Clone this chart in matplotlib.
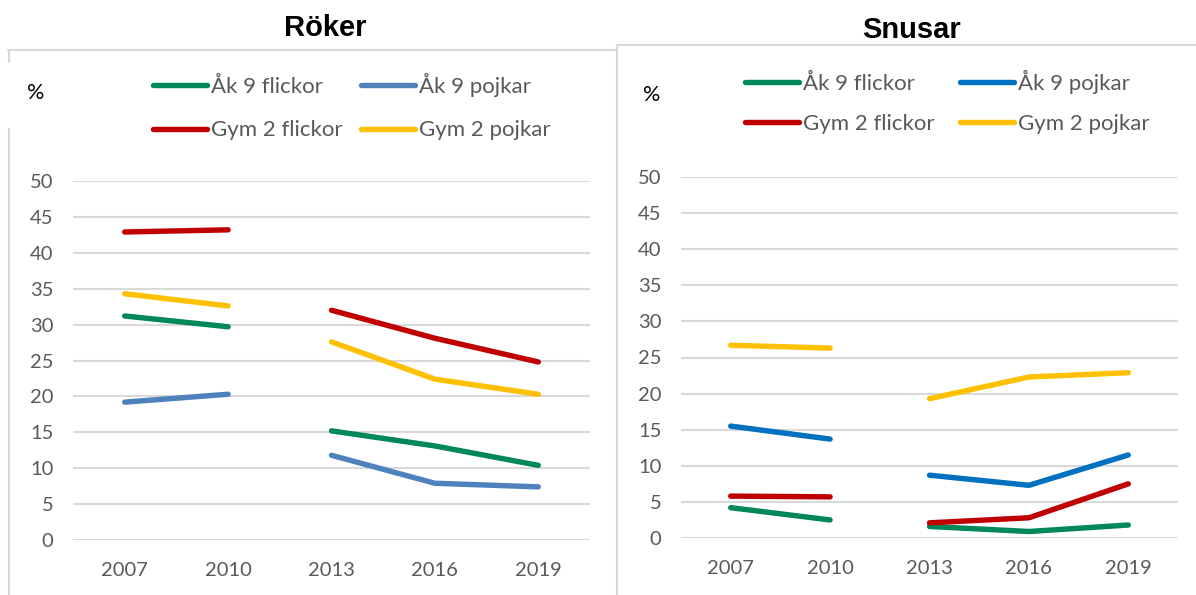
import numpy as np
import matplotlib
matplotlib.use("Agg")
import matplotlib.pyplot as plt
from matplotlib.lines import Line2D

years = ["2007", "2010", "2013", "2016", "2019"]
series_names = ["Åk 9 flickor", "Åk 9 pojkar", "Gym 2 flickor", "Gym 2 pojkar"]

roker_ak9_flickor = [31.2, 29.7, 15.2, 13.1, 10.4]
roker_ak9_pojkar = [19.2, 20.3, 11.8, 7.9, 7.4]
roker_gym2_flickor = [42.9, 43.2, 32.0, 28.1, 24.8]
roker_gym2_pojkar = [34.3, 32.6, 27.6, 22.4, 20.3]

snus_ak9_flickor = [4.2, 2.5, 1.6, 0.9, 1.8]
snus_ak9_pojkar = [15.5, 13.7, 8.7, 7.3, 11.5]
snus_gym2_flickor = [5.8, 5.7, 2.1, 2.8, 7.5]
snus_gym2_pojkar = [26.7, 26.3, 19.3, 22.3, 22.9]

yticks = [0, 5, 10, 15, 20, 25, 30, 35, 40, 45, 50]

W, H = 1196, 595
fig = plt.figure(figsize=(W / 100, H / 100), dpi=100)
fig.patch.set_facecolor("white")

border = "#D9D9D9"
tick_col = "#595959"
font = ["Lato", "DejaVu Sans"]


def fx(px):
    return px / W


def fy(py):
    return 1 - py / H


# panel borders
fig.add_artist(Line2D([fx(8), fx(617)], [fy(50), fy(50)], color=border, lw=1.5))
fig.add_artist(Line2D([fx(9), fx(9)], [fy(50), fy(62)], color=border, lw=1.5))
fig.add_artist(Line2D([fx(9), fx(9)], [fy(129), fy(595)], color=border, lw=1.5))
fig.add_artist(Line2D([fx(617), fx(1196)], [fy(45), fy(45)], color=border, lw=1.5))
fig.add_artist(Line2D([fx(617), fx(617)], [fy(45), fy(595)], color=border, lw=1.5))


def panel(rect_px, title, title_xy, pct_xy, leg_xy, data, colors, colsp, lsp):
    l, r, t, b = rect_px
    ax = fig.add_axes([fx(l), fy(b), fx(r) - fx(l), fy(t) - fy(b)])
    x = np.arange(len(years))
    handles = []
    for name, vals, c in zip(series_names, data, colors):
        v = np.array(vals, dtype=float)
        # gap between 2010 and 2013
        ax.plot(x[:2], v[:2], color=c, lw=3.9, solid_capstyle="round", clip_on=False, zorder=3)
        h, = ax.plot(x[2:], v[2:], color=c, lw=3.9, solid_capstyle="round", clip_on=False, zorder=3)
        handles.append((h, name))
    ax.set_xlim(-0.5, len(years) - 0.5)
    ax.set_ylim(0, 50)
    ax.set_yticks(yticks)
    ax.set_xticks(x)
    ax.set_xticklabels(years)
    for s in ax.spines.values():
        s.set_visible(False)
    ax.grid(axis="y", color=border, lw=1.5, zorder=0)
    ax.set_axisbelow(True)
    ax.tick_params(length=0, colors=tick_col, labelsize=14.5)
    ax.tick_params(axis="y", pad=14)
    ax.tick_params(axis="x", pad=16)
    for lab in ax.get_xticklabels() + ax.get_yticklabels():
        lab.set_family(font)
    fig.text(fx(title_xy[0]), fy(title_xy[1]), title, ha="center", va="center",
             fontsize=21, fontweight="bold", family=["Liberation Sans", "DejaVu Sans"])
    fig.text(fx(pct_xy[0]), fy(pct_xy[1]), "%", ha="center", va="center",
             fontsize=15.5, family=font, color="black")
    order = [0, 2, 1, 3]
    leg = ax.legend([handles[i][0] for i in order], [handles[i][1] for i in order],
                    ncol=2, loc="upper left",
                    bbox_to_anchor=(fx(leg_xy[0]), fy(leg_xy[1])),
                    bbox_transform=fig.transFigure, frameon=False,
                    prop={"family": font, "size": 16},
                    handlelength=2.45, handletextpad=0.15, columnspacing=colsp,
                    labelspacing=lsp, borderpad=0, borderaxespad=0)
    for t_ in leg.get_texts():
        t_.set_color(tick_col)
    for ln in leg.get_lines():
        ln.set_linewidth(3.9)
        ln.set_solid_capstyle("round")
    return ax


panel((73, 590, 181, 540), "Röker", (325, 28), (36, 93), (153, 73),
      [roker_ak9_flickor, roker_ak9_pojkar, roker_gym2_flickor, roker_gym2_pojkar],
      ["#00875A", "#4F81BD", "#C00000", "#FFC000"], 0.83, 1.05)
panel((681, 1178, 177, 538), "Snusar", (912, 30), (652, 95), (745, 70),
      [snus_ak9_flickor, snus_ak9_pojkar, snus_gym2_flickor, snus_gym2_pojkar],
      ["#00875A", "#0070C0", "#C00000", "#FFC000"], 1.15, 0.9)

fig.savefig("out.png", dpi=100, facecolor="white")
